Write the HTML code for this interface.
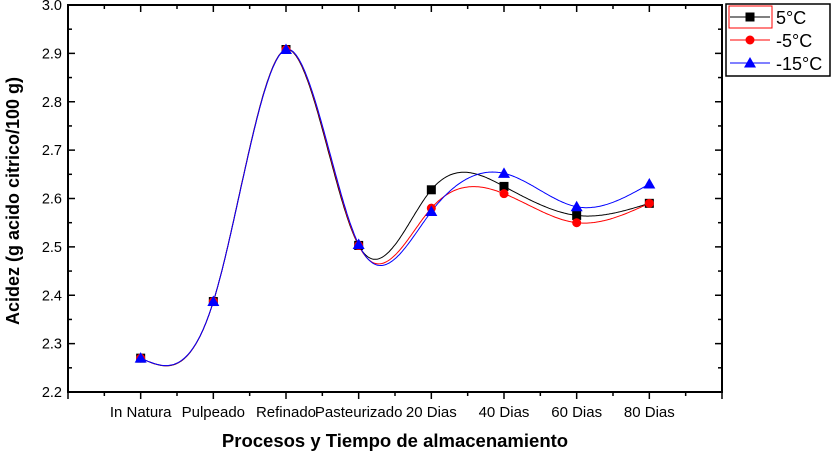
<!DOCTYPE html><html><head><meta charset="utf-8"><style>body{margin:0;background:#fff}svg{display:block;font-family:"Liberation Sans",sans-serif}</style></head><body>
<svg id="s" width="832" height="457" xmlns="http://www.w3.org/2000/svg"></svg>
<script>
const s=document.getElementById('s');let h='';
const X0=68,X1=722,Y0=5,Y1=392;
const px=i=>X0+(i+1)*(X1-X0)/9, py=v=>Y0+(3.0-v)*(Y1-Y0)/0.8;
h+=`<rect x="${X0}" y="${Y0}" width="${X1-X0}" height="${Y1-Y0}" fill="none" stroke="#000" stroke-width="2"/>`;
for(let k=0;k<=18;k++){const x=X0+k*(X1-X0)/18,l=k%2?4:7;h+=`<line x1="${x}" y1="${Y1}" x2="${x}" y2="${Y1+l}" stroke="#000" stroke-width="1.5"/><line x1="${x}" y1="${Y0}" x2="${x}" y2="${Y0+l}" stroke="#000" stroke-width="1.5"/>`;}
for(let k=0;k<=16;k++){const y=Y0+k*(Y1-Y0)/16,l=k%2?4:7;h+=`<line x1="${X0}" y1="${y}" x2="${X0+l}" y2="${y}" stroke="#000" stroke-width="1.5"/><line x1="${X1}" y1="${y}" x2="${X1-l}" y2="${y}" stroke="#000" stroke-width="1.5"/>`;
if(k%2==0)h+=`<text x="${X0-6}" y="${y+5}" font-size="14.5" text-anchor="end">${(3.0-k*0.05).toFixed(1)}</text>`;}
const cats=["In Natura","Pulpeado","Refinado","Pasteurizado","20 Dias","40 Dias","60 Dias","80 Dias"];
cats.forEach((c,i)=>h+=`<text x="${px(i)}" y="417" font-size="15" text-anchor="middle">${c}</text>`);
h+=`<text x="395" y="447" font-size="18.5" font-weight="bold" text-anchor="middle">Procesos y Tiempo de almacenamiento</text>`;
h+=`<text transform="translate(19,201) rotate(-90)" font-size="18" font-weight="bold" text-anchor="middle">Acidez (g acido citrico/100 g)</text>`;
function spline(ys){const n=ys.length,a=[0],b=[1],c=[0],d=[0];
for(let i=1;i<n-1;i++){a.push(1);b.push(4);c.push(1);d.push(6*(ys[i+1]-2*ys[i]+ys[i-1]));}
a.push(0);b.push(1);c.push(0);d.push(0);
for(let i=1;i<n;i++){const m=a[i]/b[i-1];b[i]-=m*c[i-1];d[i]-=m*d[i-1];}
const M=new Array(n);M[n-1]=d[n-1]/b[n-1];for(let i=n-2;i>=0;i--)M[i]=(d[i]-c[i]*M[i+1])/b[i];
let p='';for(let i=0;i<n-1;i++)for(let t=0;t<=1.0001;t+=0.02){const A=1-t,v=A*ys[i]+t*ys[i+1]+((A*A*A-A)*M[i]+(t*t*t-t)*M[i+1])/6;p+=(p?'L':'M')+px(i+t).toFixed(1)+','+py(v).toFixed(1);}return p;}
const S=[["#000",[2.27,2.387,2.908,2.503,2.618,2.625,2.565,2.59],"sq"],["#f00",[2.27,2.387,2.908,2.503,2.58,2.61,2.55,2.59],"ci"],["#00f",[2.27,2.387,2.908,2.505,2.573,2.652,2.583,2.63],"tr"]];
function mk(t,x,y,col){if(t=="sq")return `<rect x="${x-4.5}" y="${y-4.5}" width="9" height="9" fill="${col}"/>`;if(t=="ci")return `<circle cx="${x}" cy="${y}" r="4.5" fill="${col}"/>`;return `<polygon points="${x},${y-6} ${x+6},${y+4.5} ${x-6},${y+4.5}" fill="${col}"/>`;}
S.forEach(([col,ys])=>h+=`<path d="${spline(ys)}" fill="none" stroke="${col}" stroke-width="1"/>`);
S.forEach(([col,ys,t])=>ys.forEach((v,i)=>h+=mk(t,px(i),py(v),col)));
h+=`<rect x="726" y="4" width="104" height="72" fill="#fff" stroke="#000" stroke-width="1.5"/><rect x="729" y="6" width="43" height="22" fill="none" stroke="#f00" stroke-width="1"/>`;
S.forEach(([col,,t],k)=>{const y=17+k*23;h+=`<line x1="730" y1="${y}" x2="770" y2="${y}" stroke="${col}"/>`+mk(t,750,y,col)+`<text x="776" y="${y+7}" font-size="18">${["5°C","-5°C","-15°C"][k]}</text>`;});
s.innerHTML=h;
</script></body></html>
